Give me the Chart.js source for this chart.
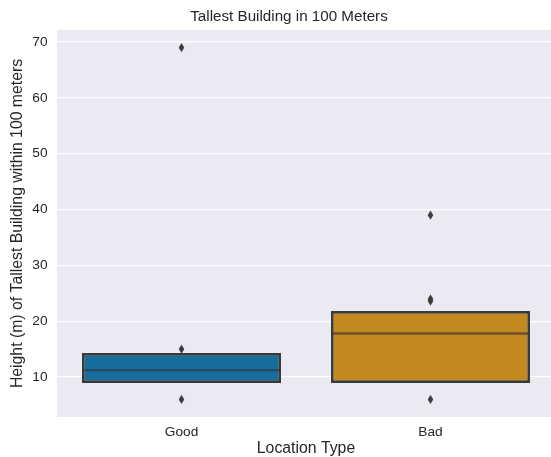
<!DOCTYPE html>
<html>
<head>
<meta charset="utf-8">
<script src="https://cdn.jsdelivr.net/npm/chart.js@4/dist/chart.umd.min.js"></script>
<style>
  html, body { margin: 0; padding: 0; background: #fff; overflow: hidden; }
  #wrap { width: 555px; height: 457px; }
</style>
</head>
<body>
<div id="wrap"><canvas id="box-chart" width="555" height="457"></canvas></div>
<script>
const categories = ['Good', 'Bad'];
const lowerQuartile = [8.95, 8.95];
const upperQuartile = [14.3, 21.85];
const medians = [11.25, 17.8];
const goodOutliers = [6, 15, 69];
const badOutliers = [6, 23.6, 24, 39];
const yTicks = [10, 20, 30, 40, 50, 60, 70];
const chartTitle = 'Tallest Building in 100 Meters';

const boxColors = ['rgb(23, 109, 156)', 'rgb(195, 136, 32)'];
const edgeColor = '#3a3a3a';
const textColor = '#262626';
const fontFamily = '"Liberation Sans", Arial, sans-serif';

// thin diamond like matplotlib's 'd' marker
const diamond = document.createElement('canvas');
diamond.width = 7;
diamond.height = 10;
const dctx = diamond.getContext('2d');
dctx.fillStyle = edgeColor;
dctx.beginPath();
dctx.moveTo(3.5, 0.6);
dctx.lineTo(6.3, 5);
dctx.lineTo(3.5, 9.4);
dctx.lineTo(0.7, 5);
dctx.closePath();
dctx.fill();

const outlierPoints = [];
goodOutliers.forEach(v => outlierPoints.push({ x: 'Good', y: v }));
badOutliers.forEach(v => outlierPoints.push({ x: 'Bad', y: v }));

const plotBackground = {
  id: 'plotBackground',
  beforeDraw(chart) {
    const { ctx, chartArea } = chart;
    ctx.save();
    ctx.fillStyle = '#eaeaf2';
    ctx.fillRect(chartArea.left, chartArea.top, chartArea.right - chartArea.left, chartArea.bottom - chartArea.top);
    ctx.restore();
  }
};

// the original title sits a bit right of the canvas centre
const titleText = {
  id: 'titleText',
  afterDraw(chart) {
    const ctx = chart.ctx;
    ctx.save();
    ctx.fillStyle = textColor;
    ctx.font = '15.2px ' + fontFamily;
    ctx.textAlign = 'center';
    ctx.textBaseline = 'middle';
    ctx.fillText(chartTitle, chart.width / 2 + 11.5, 17);
    ctx.restore();
  }
};

const medianLines = {
  id: 'medianLines',
  afterDatasetsDraw(chart) {
    const ctx = chart.ctx;
    const meta = chart.getDatasetMeta(0);
    ctx.save();
    ctx.strokeStyle = 'rgba(50, 50, 50, 0.62)';
    ctx.lineWidth = 2.4;
    meta.data.forEach((bar, i) => {
      const y = chart.scales.y.getPixelForValue(medians[i]);
      ctx.beginPath();
      ctx.moveTo(bar.x - bar.width / 2 + 1, y);
      ctx.lineTo(bar.x + bar.width / 2 - 1, y);
      ctx.stroke();
    });
    ctx.restore();
  }
};

new Chart(document.getElementById('box-chart'), {
  type: 'bar',
  data: {
    labels: categories,
    datasets: [
      {
        label: 'Boxes',
        data: categories.map((c, i) => [lowerQuartile[i], upperQuartile[i]]),
        backgroundColor: boxColors,
        borderColor: edgeColor,
        borderWidth: 2.8,
        borderSkipped: false,
        categoryPercentage: 0.8,
        barPercentage: 1.0,
        order: 2
      },
      {
        type: 'line',
        label: 'Outliers',
        data: outlierPoints,
        showLine: false,
        pointStyle: diamond,
        pointRadius: 4,
        order: 1
      }
    ]
  },
  options: {
    responsive: false,
    animation: false,
    layout: { padding: { top: 30 }, autoPadding: false },
    plugins: {
      legend: { display: false },
      tooltip: { enabled: false },
      title: { display: false }
    },
    scales: {
      x: {
        grid: { display: false },
        border: { display: false },
        ticks: {
          color: textColor,
          font: { family: fontFamily, size: 13.7 },
          padding: -1
        },
        title: {
          display: true,
          text: 'Location Type',
          color: textColor,
          font: { family: fontFamily, size: 15.8, lineHeight: 1 },
          padding: 0
        },
        afterFit(scale) { scale.height = 40; }
      },
      y: {
        min: 2.85,
        max: 72.15,
        afterBuildTicks(scale) { scale.ticks = yTicks.map(v => ({ value: v })); },
        grid: { color: '#ffffff', lineWidth: 1.2, drawTicks: false },
        border: { display: false },
        ticks: {
          color: textColor,
          font: { family: fontFamily, size: 13.7 },
          padding: 9.5
        },
        title: {
          display: true,
          text: 'Height (m) of Tallest Building within 100 meters',
          color: textColor,
          font: { family: fontFamily, size: 15.8, lineHeight: 1 },
          padding: { top: 10, bottom: 0 }
        },
        afterFit(scale) { scale.width = 57; }
      }
    }
  },
  plugins: [plotBackground, medianLines, titleText]
});
</script>
</body>
</html>
